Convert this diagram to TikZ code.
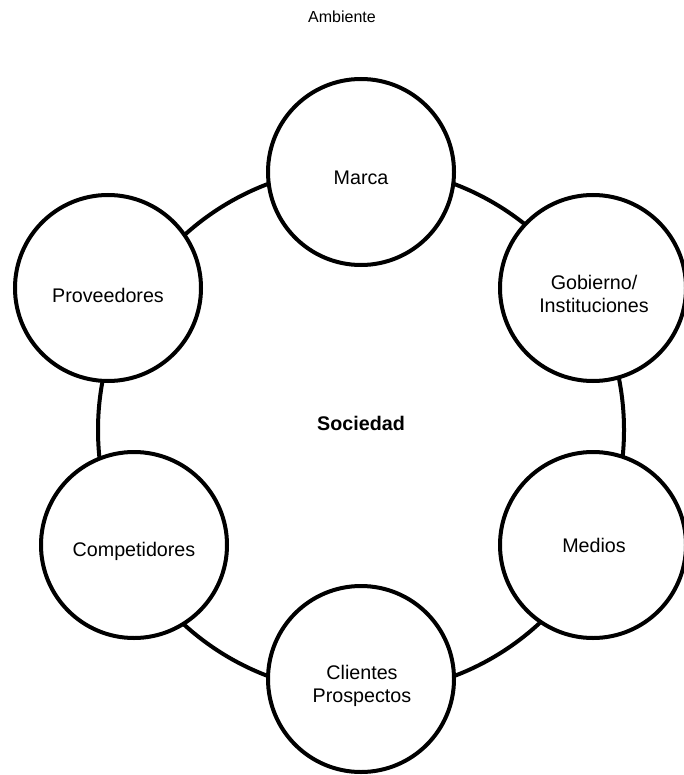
\documentclass[tikz,border=0pt]{standalone}
\usepackage{fontspec}
\setmainfont{Liberation Sans}
\begin{document}
\begin{tikzpicture}[x=1pt,y=-1pt]
\tikzset{
  ring/.style={circle, draw=black, line width=4pt, inner sep=0pt, minimum size=526pt},
  actor/.style={circle, draw=black, fill=white, line width=4pt, inner sep=0pt, minimum size=186pt},
  lbl/.style={inner sep=0pt, align=center, font=\fontsize{19.7}{23}\selectfont},
  ttl/.style={inner sep=0pt, font=\fontsize{16}{19}\selectfont}
}
\useasboundingbox (0,0) rectangle (683,775);
\fill[white] (0,0) rectangle (683,775);
\node[ttl] (amb) at (342,17) {Ambiente};
\node[ring] (soc) at (361,430) {};
\node[lbl, font=\bfseries\fontsize{19.7}{23}\selectfont] (soct) at (361,423) {Sociedad};
\node[actor] (mar) at (361,172) {};
\node[actor] (gob) at (593,288) {};
\node[actor] (med) at (593,545) {};
\node[actor] (cli) at (361,679) {};
\node[actor] (com) at (134,545) {};
\node[actor] (pro) at (108,288) {};
\node[lbl] (mart) at (361,178) {Marca};
\node[lbl] (gobt) at (594,294) {Gobierno/\\Instituciones};
\node[lbl] (medt) at (594,545) {Medios};
\node[lbl] (clit) at (362,686) {Clientes\\Prospectos};
\node[lbl] (comt) at (134,551) {Competidores};
\node[lbl] (prot) at (108,295) {Proveedores};
\end{tikzpicture}
\end{document}
